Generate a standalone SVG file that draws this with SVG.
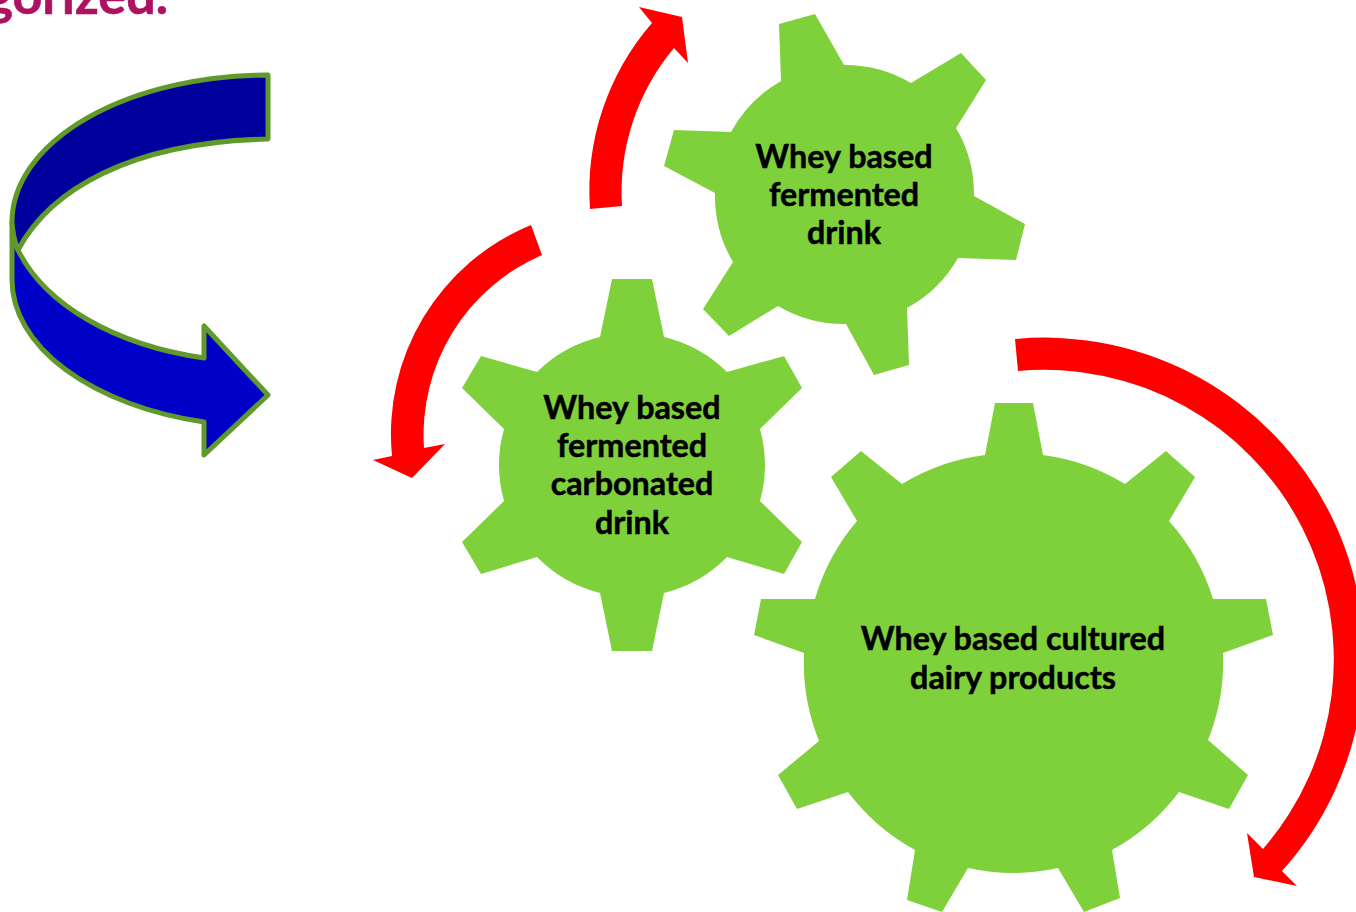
<svg xmlns="http://www.w3.org/2000/svg" width="1356" height="912" viewBox="0 0 1356 912">
<style>
.gear{fill:#7FD13B}
.lbl{font-family:"Lato","Open Sans",sans-serif;font-weight:700;font-size:32.3px;fill:#000;stroke:#000;stroke-width:.5px;text-anchor:middle}
.red{fill:#FF0000}
.band{stroke:#5F9A2B;stroke-width:5;stroke-linejoin:round}
</style>
<rect width="1356" height="912" fill="#fff"/>
<text x="168" y="14" style="font-family:Lato,'Open Sans',sans-serif;font-weight:700;font-size:52px;fill:#AD1260;stroke:#AD1260;stroke-width:.6px;text-anchor:end">gorized.</text>
<g id="curved-arrow">
<path class="band" fill="#0000C8" d="M12,222 L12,280 A256,147 0 0 0 204,422 L204,455 L268,395 L204,326 L204,358 C115,345 45,305 18,250 Z"/>
<path class="band" fill="#00009C" d="M268,75 A256,147 0 0 0 12,222 Q13,238 18,250 C50,190 130,142 268,139 Z"/>
</g>
<g id="gear-fermented-drink">
<path class="gear" d="M781,81 L779,24 L815,14 L844,65 A130,130 0 0 1 911,83 L961,53 L986,80 L956,128 A130,130 0 0 1 974,196 L1025,224 L1016,260 L958,258 A130,130 0 0 1 907,308 L909,365 L874,375 L846,324 A130,130 0 0 1 778,306 L729,336 L703,309 L733,262 A130,130 0 0 1 715,193 L664,166 L674,130 L731,132 A130,130 0 0 1 781,81 Z"/>
<text class="lbl" x="844" y="167.5">Whey based</text>
<text class="lbl" x="844" y="205.5">fermented</text>
<text class="lbl" x="844" y="243.5">drink</text>
</g>
<g id="gear-carbonated-drink">
<path class="gear" d="M600,337 L612,279 L652,279 L664,337 A133,133 0 0 1 727,372 L784,356 L802,388 L760,429 A133,133 0 0 1 760,501 L802,542 L784,574 L727,557 A133,133 0 0 1 664,593 L652,651 L612,651 L600,593 A133,133 0 0 1 537,557 L481,574 L462,542 L504,501 A133,133 0 0 1 504,429 L462,388 L481,356 L537,372 A133,133 0 0 1 600,337 Z"/>
<text class="lbl" x="632" y="418.5">Whey based</text>
<text class="lbl" x="632" y="456.5">fermented</text>
<text class="lbl" x="632" y="494.5">carbonated</text>
<text class="lbl" x="632" y="533.5">drink</text>
</g>
<g id="gear-cultured-dairy">
<path class="gear" d="M985,455 L995,403 L1033,403 L1043,455 A210,210 0 0 1 1125,484 L1166,451 L1195,477 L1169,521 A210,210 0 0 1 1213,599 L1266,599 L1273,635 L1223,653 A210,210 0 0 1 1208,740 L1248,775 L1229,809 L1179,792 A210,210 0 0 1 1112,850 L1120,898 L1084,912 L1058,868 A210,210 0 0 1 968,868 L942,912 L907,900 L915,850 A210,210 0 0 1 848,792 L797,809 L778,775 L819,741 A210,210 0 0 1 804,653 L754,635 L761,599 L815,599 A210,210 0 0 1 857,521 L831,477 L861,451 L902,484 A210,210 0 0 1 985,455 Z"/>
<text class="lbl" x="1013" y="649.5">Whey based cultured</text>
<text class="lbl" x="1013" y="688.5">dairy products</text>
</g>
<g id="connectors">
<path class="red" d="M590,209 A256,256 0 0 1 652,23 L639,7 L682,17 L688,63 L674,48 A224,224 0 0 0 622,206 Z"/>
<path class="red" d="M531,225 A226,226 0 0 0 392,456 L373,460 L412,478 L445,444 L424,448 A196,196 0 0 1 542,255 Z"/>
<path class="red" d="M1015,339 A319.5,319.5 0 0 1 1282,871 L1297,886 L1254,877 L1247,833 L1263,849 A289.5,289.5 0 0 0 1018,371 Z"/>
</g>
</svg>
